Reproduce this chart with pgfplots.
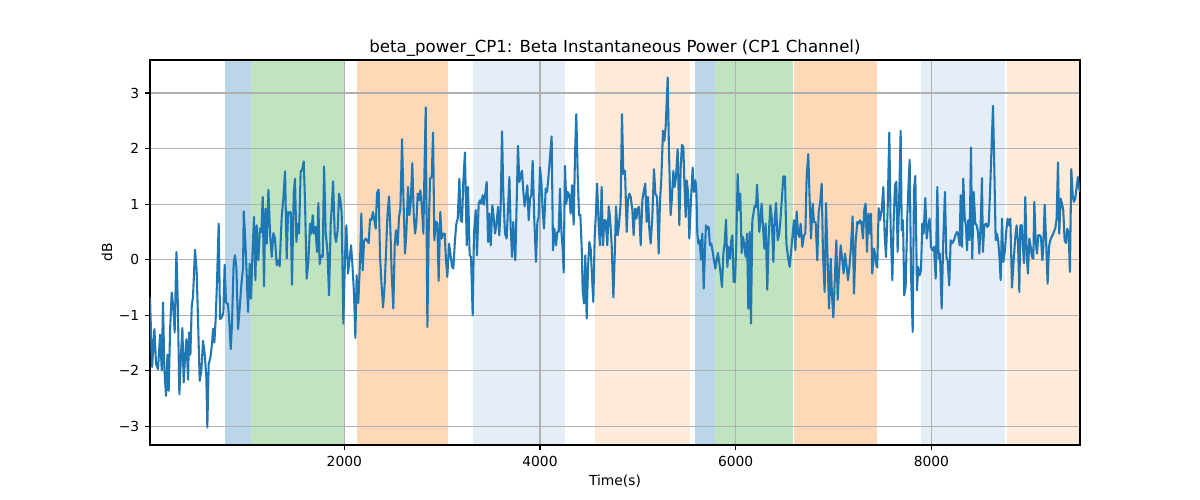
\documentclass[border=0pt]{standalone}
\usepackage{fontspec}
\setmainfont{DejaVu Sans}
\usepackage{pgfplots}
\usepackage{pgfplotstable}
\pgfplotsset{compat=1.18}
\definecolor{tabblue}{RGB}{31,119,180}
\definecolor{spanblue}{RGB}{188,214,233}
\definecolor{spangreen}{RGB}{192,227,192}
\definecolor{spanorange}{RGB}{255,217,183}
\definecolor{spanltblue}{RGB}{229,237,246}
\definecolor{spanltorange}{RGB}{253,234,216}
\definecolor{gridgray}{RGB}{176,176,176}

\pgfplotstableread{
x y
14 -0.68
35 -1.93
59 -1.25
76 -1.88
96 -1.97
117 -1.35
134 -1.99
147 -0.77
161 -1.99
178 -2.45
192 -1.71
205 -2.36
219 -1.28
236 -0.59
253 -0.86
266 -1.31
284 0.14
297 -0.68
314 -2.42
331 -1.70
345 -1.23
358 -2.21
372 -1.76
386 -1.43
403 -2.16
413 -1.31
427 -1.71
440 -0.86
454 -0.65
474 0.18
491 -0.21
505 -1.10
522 -2.18
539 -1.99
556 -1.46
573 -1.70
590 -2.12
600 -3.02
614 -1.88
631 -1.76
648 -1.52
658 -1.24
672 -1.49
686 -1.04
699 -0.39
716 0.65
730 -1.07
747 -1.04
764 -0.95
777 -0.09
791 -0.77
811 -0.80
825 -1.13
839 -1.61
852 -1.16
869 -0.06
883 0.08
897 -0.15
914 -1.25
931 -0.86
948 -0.44
965 -0.15
972 0.87
985 0.47
1002 -0.25
1016 -0.94
1033 -0.07
1047 -0.70
1060 0.05
1077 0.77
1091 -0.37
1104 0.62
1121 -0.01
1138 0.56
1152 0.50
1166 1.13
1179 -0.48
1193 0.92
1207 0.29
1224 1.26
1241 0.47
1258 0.05
1275 0.48
1292 0.38
1309 -0.10
1326 -0.01
1339 -0.12
1360 0.77
1377 1.10
1394 1.59
1411 0.02
1425 0.86
1438 0.83
1452 0.86
1465 -0.45
1483 1.19
1496 1.46
1510 0.32
1523 0.65
1537 0.47
1554 1.60
1568 1.60
1585 1.77
1598 1.07
1615 -0.34
1632 -0.05
1650 0.65
1663 0.47
1677 0.80
1690 0.47
1704 0.59
1721 0.14
1735 1.02
1748 -0.08
1762 0.08
1779 0.05
1793 1.68
1810 0.47
1827 0.17
1844 -0.64
1861 0.65
1874 1.01
1885 1.41
1902 0.47
1915 0.32
1932 0.53
1946 1.19
1960 1.07
1973 0.83
1990 -1.15
2007 0.05
2021 0.62
2038 -0.25
2052 -0.01
2069 0.26
2082 -0.07
2099 -0.61
2113 -1.41
2126 -0.28
2143 -0.78
2161 -0.01
2174 0.83
2188 -0.19
2201 0.32
2218 0.38
2232 0.35
2249 0.30
2263 0.73
2276 0.71
2293 0.86
2307 0.71
2321 0.56
2334 1.20
2351 1.26
2365 0.05
2382 -0.49
2396 -0.86
2413 -0.43
2426 0.11
2440 0.77
2457 1.14
2471 0.53
2484 -0.25
2501 -0.88
2515 0.26
2528 0.53
2545 0.26
2559 0.77
2573 0.92
2590 2.17
2603 1.19
2620 0.11
2634 0.47
2651 1.31
2665 0.80
2678 1.01
2695 1.74
2709 0.83
2723 0.47
2736 0.65
2750 1.19
2763 1.07
2777 1.25
2794 0.92
2808 0.47
2818 1.49
2832 2.74
2849 -1.21
2862 0.47
2876 1.46
2893 1.49
2907 2.29
2920 0.35
2937 0.69
2951 0.65
2964 -0.38
2981 0.86
2995 0.38
3009 0.47
3026 0.47
3039 -0.01
3053 -0.31
3070 0.29
3084 0.11
3101 -0.12
3114 -0.16
3131 0.35
3145 0.65
3159 0.74
3176 1.46
3189 0.71
3203 0.68
3216 1.40
3233 1.93
3251 0.26
3264 1.31
3281 0.08
3295 0.05
3312 -1.00
3325 0.47
3343 0.89
3356 0.08
3373 1.01
3387 1.07
3400 1.01
3414 1.16
3428 0.99
3441 1.19
3455 1.40
3469 0.32
3482 0.83
3496 0.26
3513 0.98
3526 0.77
3540 0.47
3554 0.62
3571 0.95
3584 0.44
3598 0.95
3612 2.31
3625 1.19
3642 0.47
3659 0.38
3673 0.92
3687 1.49
3700 0.59
3714 0.05
3727 0.68
3748 -0.01
3762 1.07
3775 2.05
3789 1.40
3802 1.49
3816 1.60
3830 1.22
3843 0.96
3857 1.14
3871 1.34
3884 0.71
3898 1.10
3911 1.16
3925 1.78
3942 0.71
3959 -0.04
3973 0.68
3986 0.77
4000 1.66
4014 1.40
4027 0.89
4041 0.56
4058 1.28
4072 1.22
4085 1.46
4102 1.84
4119 2.22
4133 0.17
4146 0.56
4164 0.26
4177 0.50
4191 0.50
4204 1.28
4218 0.53
4232 0.20
4242 -0.23
4255 1.69
4269 1.01
4283 1.22
4300 1.16
4313 0.83
4327 1.34
4344 0.63
4358 1.90
4371 2.62
4385 1.54
4399 0.80
4412 0.81
4426 0.23
4436 -0.55
4450 -0.79
4463 0.08
4477 -1.06
4491 -0.13
4504 0.32
4518 0.20
4535 -0.43
4545 -0.76
4559 0.41
4572 0.86
4583 1.37
4600 0.62
4613 0.26
4630 1.31
4644 0.26
4657 0.71
4671 0.71
4688 0.26
4702 0.96
4715 0.77
4732 0.29
4750 -0.68
4763 0.05
4777 0.96
4794 0.44
4807 0.62
4824 1.01
4838 2.62
4852 1.54
4869 1.60
4886 0.50
4899 1.07
4913 1.19
4927 1.13
4944 0.89
4957 0.44
4971 0.92
4985 0.74
4998 0.92
5012 0.95
5029 0.26
5046 1.07
5059 1.22
5076 1.37
5090 0.68
5104 1.13
5117 0.56
5131 0.29
5148 0.77
5165 1.63
5179 1.19
5196 1.13
5213 0.11
5226 1.04
5240 1.46
5257 2.32
5271 2.14
5284 2.38
5305 3.28
5318 1.96
5335 0.80
5349 1.13
5363 1.60
5376 1.31
5390 1.49
5407 1.99
5424 0.62
5438 1.66
5451 2.07
5465 2.02
5475 1.43
5489 0.77
5499 1.43
5513 1.22
5526 0.38
5543 1.07
5560 1.66
5574 1.22
5588 1.43
5598 1.25
5608 0.47
5618 0.29
5632 0.35
5645 0.00
5659 0.47
5673 -0.52
5686 0.17
5696 0.62
5710 0.56
5724 0.59
5737 0.26
5751 0.29
5765 0.14
5778 -0.01
5792 -0.16
5805 -0.01
5819 0.12
5833 -0.07
5846 -0.25
5860 -0.49
5874 0.11
5887 0.29
5901 0.72
5915 -0.13
5928 0.23
5942 0.02
5955 0.35
5966 0.44
5979 -0.40
5993 -0.40
6006 0.29
6020 1.54
6034 0.89
6047 1.19
6061 0.12
6075 0.41
6088 0.26
6102 0.05
6116 0.47
6129 -0.88
6143 0.50
6156 -1.15
6170 0.71
6184 0.86
6194 0.97
6208 0.95
6218 1.35
6231 0.89
6241 0.50
6248 0.62
6265 1.01
6279 0.59
6293 0.20
6306 0.65
6323 -0.54
6337 0.41
6354 0.98
6368 0.77
6385 -0.04
6398 0.71
6412 1.02
6429 0.35
6443 0.44
6456 0.68
6473 1.13
6487 1.50
6504 1.50
6518 0.29
6535 0.05
6552 -0.13
6569 0.20
6586 0.53
6596 0.71
6610 0.17
6623 0.87
6637 0.47
6650 0.41
6664 0.65
6681 0.23
6698 0.44
6712 0.47
6725 1.49
6742 1.90
6756 1.07
6770 0.38
6787 1.01
6800 0.68
6817 0.68
6834 -0.01
6848 0.86
6862 1.01
6879 1.37
6892 0.11
6909 -0.58
6923 1.02
6937 0.14
6954 -0.88
6971 0.02
6984 -0.64
6998 -1.04
7015 -0.25
7029 0.35
7042 -0.72
7059 -0.13
7073 0.26
7090 -0.01
7103 -0.25
7117 0.11
7134 -0.13
7148 -0.37
7165 -0.07
7178 0.23
7195 0.78
7209 -0.61
7226 0.32
7243 0.68
7257 0.65
7270 0.71
7284 0.68
7301 0.38
7315 0.92
7328 1.01
7342 0.14
7356 0.83
7369 0.47
7383 0.83
7396 -0.25
7413 0.20
7424 0.11
7434 -0.07
7447 -0.14
7461 0.93
7475 0.71
7492 0.89
7509 1.31
7522 0.47
7536 0.05
7553 0.89
7570 2.29
7584 0.56
7601 -0.37
7614 0.65
7628 1.35
7642 1.40
7655 0.14
7669 0.95
7686 2.32
7697 0.53
7710 0.71
7723 -0.64
7737 -0.49
7754 0.77
7764 1.25
7778 1.80
7792 -0.25
7809 -1.30
7822 1.25
7836 1.51
7853 -0.55
7866 -0.13
7880 -0.28
7894 -0.19
7907 0.65
7921 0.47
7938 1.11
7952 0.38
7965 0.59
7982 0.74
7996 0.23
8010 0.17
8027 0.23
8044 -0.34
8061 1.31
8074 0.02
8088 0.11
8105 -0.88
8122 0.38
8139 1.22
8153 0.05
8166 -0.01
8183 -0.46
8197 0.35
8214 0.30
8231 0.35
8245 0.44
8262 0.50
8275 0.44
8289 0.26
8299 1.16
8313 0.23
8326 1.46
8340 0.77
8354 0.59
8364 0.17
8377 0.71
8391 0.35
8405 2.02
8418 0.02
8432 1.22
8449 0.65
8463 0.62
8476 0.50
8490 0.11
8504 0.65
8517 1.47
8527 0.14
8541 0.62
8558 0.65
8572 0.59
8585 0.62
8599 1.19
8616 2.08
8630 2.77
8643 1.66
8657 0.35
8670 0.47
8684 0.32
8698 -0.01
8708 -0.37
8722 0.74
8735 -0.04
8752 0.17
8766 0.53
8779 0.74
8793 0.62
8807 0.74
8824 -0.50
8841 -0.01
8858 0.41
8871 0.62
8885 0.32
8899 -0.58
8909 0.62
8923 0.62
8936 0.23
8946 -0.06
8960 1.13
8974 0.11
8987 -0.25
9001 0.38
9015 0.23
9028 0.05
9042 0.02
9052 1.04
9066 0.35
9079 0.11
9093 0.44
9107 0.44
9120 0.41
9134 -0.01
9144 0.23
9158 0.99
9171 0.41
9188 -0.43
9202 0.23
9215 0.35
9229 0.41
9246 0.47
9267 0.57
9280 0.74
9294 1.75
9307 0.47
9321 1.10
9335 1.01
9348 0.89
9362 0.35
9376 0.30
9389 0.56
9403 0.47
9416 -0.22
9430 1.63
9444 1.16
9457 1.04
9471 1.11
9485 1.31
9498 1.49
9508 1.31
9519 1.22
}\betadata

\pgfplotsset{set layers}

\begin{document}
\begin{tikzpicture}
\begin{axis}[
  at={(0,0)}, anchor=south west,
  scale only axis, width=9.3in, height=3.85in,
  xmin=14, xmax=9519, ymin=-3.335, ymax=3.595,
  xtick={2000,4000,6000,8000},
  xticklabels={2000,4000,6000,8000},
  ytick={-3,-2,-1,0,1,2,3},
  yticklabels={−3,−2,−1,0,1,2,3},
  tick align=outside, major tick length=3.5pt,
  xtick pos=bottom, ytick pos=left,
  tick style={black, line width=0.8pt},
  axis line style={black, line width=0.8pt},
  grid=major, grid style={gridgray, line width=0.8pt},
  tick label style={font=\fontsize{10}{12}\selectfont, inner sep=0pt},
  xticklabel style={anchor=north, yshift=-4.1pt},
  yticklabel style={anchor=east, xshift=-4.1pt},
  title={beta\_power\_CP1: Beta Instantaneous Power (CP1 Channel)},
  title style={font=\fontsize{12}{14}\selectfont, at={(axis description cs:0.5,1.0104)}, anchor=center, inner sep=0pt},
  xlabel={Time(s)},
  xlabel style={font=\fontsize{10}{12}\selectfont, at={(axis description cs:0.5,-0.0935)}, anchor=center, inner sep=0pt},
  ylabel={dB},
  ylabel style={font=\fontsize{10}{12}\selectfont, at={(axis description cs:-0.0462,0.5)}, anchor=center, inner sep=0pt},
]
\addplot[on layer=axis background, fill=spanblue, draw=none] coordinates {(784,-3.335) (1050,-3.335) (1050,3.595) (784,3.595)} -- cycle;
\addplot[on layer=axis background, fill=spangreen, draw=none] coordinates {(1050,-3.335) (2000,-3.335) (2000,3.595) (1050,3.595)} -- cycle;
\addplot[on layer=axis background, fill=spanorange, draw=none] coordinates {(2133,-3.335) (3057,-3.335) (3057,3.595) (2133,3.595)} -- cycle;
\addplot[on layer=axis background, fill=spanltblue, draw=none] coordinates {(3315,-3.335) (4252,-3.335) (4252,3.595) (3315,3.595)} -- cycle;
\addplot[on layer=axis background, fill=spanltorange, draw=none] coordinates {(4565,-3.335) (5533,-3.335) (5533,3.595) (4565,3.595)} -- cycle;
\addplot[on layer=axis background, fill=spanblue, draw=none] coordinates {(5587,-3.335) (5792,-3.335) (5792,3.595) (5587,3.595)} -- cycle;
\addplot[on layer=axis background, fill=spangreen, draw=none] coordinates {(5792,-3.335) (6586,-3.335) (6586,3.595) (5792,3.595)} -- cycle;
\addplot[on layer=axis background, fill=spanorange, draw=none] coordinates {(6596,-3.335) (7441,-3.335) (7441,3.595) (6596,3.595)} -- cycle;
\addplot[on layer=axis background, fill=spanltblue, draw=none] coordinates {(7894,-3.335) (8755,-3.335) (8755,3.595) (7894,3.595)} -- cycle;
\addplot[on layer=axis background, fill=spanltorange, draw=none] coordinates {(8773,-3.335) (9519,-3.335) (9519,3.595) (8773,3.595)} -- cycle;
\addplot[tabblue, line width=1.5pt, line join=round, mark=none] table[x=x, y=y] {\betadata};
\end{axis}
\path (-1.5in,-0.55in) rectangle (10.5in,4.45in);
\end{tikzpicture}
\end{document}
